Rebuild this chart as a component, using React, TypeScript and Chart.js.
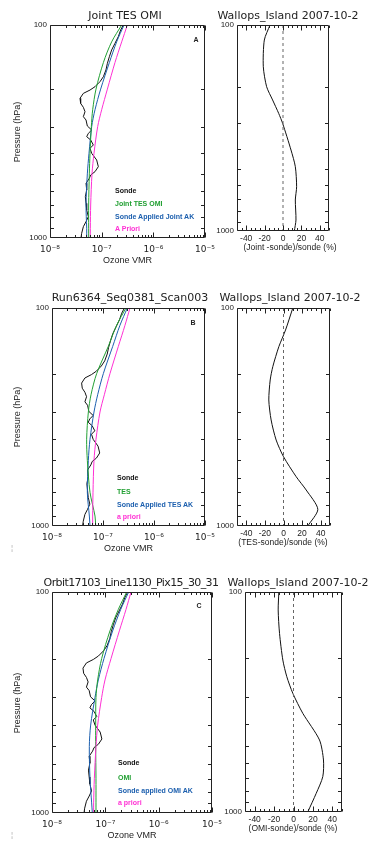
import React, { useEffect, useRef } from 'react';
import { Chart, registerables } from 'chart.js';

Chart.register(...registerables);
Chart.defaults.font.family = "'Liberation Sans', Arial, sans-serif";
Chart.defaults.color = '#222';

// ---------------- data ----------------
// Ozonesonde profile (Wallops Island, 2007-10-2)
const sondePressure = [100, 105.6, 113.4, 121.9, 131, 140.8, 151.4, 162.6, 174.8, 184.5, 194.8, 202, 209.4, 221, 233.3, 243.5, 255.2, 269.4, 279.3, 298, 311.2, 322.6, 334.4, 346.7, 365.9, 379.3, 400.4, 430.3, 462.5, 488.2, 506.1, 524.7, 553.7, 595.2, 639.7, 687.6, 738.9, 794.2, 838.3, 884.8, 950.7, 1000];
const sondeOzone = [2.63e-7, 2.33e-7, 2.10e-7, 1.81e-7, 1.56e-7, 1.41e-7, 1.29e-7, 1.21e-7, 1.08e-7, 9.28e-8, 7.43e-8, 5.95e-8, 4.42e-8, 3.81e-8, 3.92e-8, 4.42e-8, 4.76e-8, 4.42e-8, 4.98e-8, 5.28e-8, 6.41e-8, 5.52e-8, 5.13e-8, 6.13e-8, 6.90e-8, 5.95e-8, 6.41e-8, 8.00e-8, 8.62e-8, 7.43e-8, 6.13e-8, 5.77e-8, 4.98e-8, 5.13e-8, 4.83e-8, 4.98e-8, 5.13e-8, 5.52e-8, 4.98e-8, 4.42e-8, 4.10e-8, 3.98e-8];

// retrieval pressure levels
const modelPressure = [100, 120, 150, 200, 250, 300, 400, 500, 700, 900, 1000];

// Panel A: Joint TES OMI
const jointOzone = [2.44e-7, 1.56e-7, 1.08e-7, 7.77e-8, 6.70e-8, 6.31e-8, 5.95e-8, 5.77e-8, 5.60e-8, 5.60e-8, 5.60e-8];
const jointSondeAK = [2.71e-7, 1.95e-7, 1.41e-7, 9.56e-8, 7.43e-8, 6.41e-8, 5.69e-8, 5.28e-8, 4.98e-8, 5.13e-8, 5.13e-8];
const jointApriori = [3.14e-7, 2.44e-7, 1.81e-7, 1.29e-7, 1.0e-7, 8.37e-8, 7.11e-8, 6.50e-8, 6.13e-8, 6.03e-8, 6.03e-8];

// Panel B: TES
const tesOzone = [2.82e-7, 1.85e-7, 1.27e-7, 7.51e-8, 5.82e-8, 5.16e-8, 4.78e-8, 4.93e-8, 5.56e-8, 6.97e-8, 7.18e-8];
const tesSondeAK = [3.00e-7, 2.15e-7, 1.55e-7, 1.015e-7, 7.86e-8, 6.66e-8, 5.56e-8, 5.16e-8, 4.93e-8, 5.40e-8, 5.56e-8];
const tesApriori = [3.38e-7, 2.70e-7, 2.00e-7, 1.37e-7, 1.062e-7, 8.73e-8, 7.29e-8, 6.66e-8, 6.37e-8, 6.27e-8, 6.27e-8];

// Panel C: OMI
const omiOzone = [2.51e-7, 1.75e-7, 1.22e-7, 8.54e-8, 7.18e-8, 6.68e-8, 6.59e-8, 6.59e-8, 6.68e-8, 6.68e-8, 6.68e-8];
const omiSondeAK = [2.74e-7, 1.94e-7, 1.37e-7, 9.44e-8, 7.39e-8, 6.40e-8, 5.31e-8, 5.01e-8, 5.16e-8, 5.54e-8, 5.70e-8];
const omiApriori = [3.03e-7, 2.44e-7, 1.83e-7, 1.28e-7, 9.86e-8, 8.54e-8, 7.18e-8, 6.68e-8, 6.22e-8, 6.04e-8, 6.04e-8];

// relative differences (%)
const jointDiffPressure = [100, 118.3, 159.4, 199.3, 231.2, 268.5, 300.2, 404.5, 487.3, 609.4, 707.2, 884.6, 1000];
const jointDiffPct = [-14.1, -20.3, -21.4, -17.8, -11.3, -4.7, -0.4, 8.7, 13.4, 14.8, 13.4, 14.1, 12.3];
const tesDiffPressure = [100, 126.2, 150.4, 185.8, 213.9, 264.2, 326.4, 403.3, 480.8, 593.8, 683.8, 838.5, 1000];
const tesDiffPct = [10.0, 2.2, -5.0, -11.5, -14.3, -15.8, -13.3, -7.9, 0, 13.6, 24.4, 36.9, 26.1];
const omiDiffPressure = [100, 120.7, 154.2, 203.8, 242.7, 288.8, 356.1, 470.6, 580.2, 691, 822.8, 1000];
const omiDiffPct = [-15.1, -15.8, -14.4, -11.0, -6.9, -0.7, 9.6, 26.8, 30.9, 30.2, 23.4, 14.7];
const zeroLinePct = [0, 0];
const zeroLinePressure = [100, 1000];

// axes
const vmrTickValues = [1e-8, 1e-7, 1e-6, 1e-5];
const vmrTickLabels = ['10⁻⁸', '10⁻⁷', '10⁻⁶', '10⁻⁵'];
const vmrMinorTicks = [1e-8, 1e-7, 1e-6].flatMap((d) => [2, 3, 4, 5, 6, 7, 8, 9].map((k) => k * d));
const pressureTickValues = [100, 1000];
const pressureTickLabels = ['100', '1000'];
const pressureMinorTicks = [200, 300, 400, 500, 600, 700, 800, 900];
const diffTickValues = [-40, -20, 0, 20, 40];
const diffTickLabels = ['-40', '-20', '0', '20', '40'];
const diffMinorTicks = [-50, -45, -40, -35, -30, -25, -20, -15, -10, -5, 0, 5, 10, 15, 20, 25, 30, 35, 40, 45, 50];

const GREEN = '#22a033';
const BLUE = '#1c5fae';
const MAGENTA = '#ff30d4';
const BLACK = '#111';

// ---------------- chart helpers ----------------
type Series = { xs: number[]; ys: number[]; color: string; tension?: number; dash?: number[]; width?: number };
type Box = { l: number; t: number; r: number; b: number };

const frameTicks = {
  id: 'frameTicks',
  afterDatasetsDraw(chart: any, _args: any, opts: any) {
    const { ctx, chartArea } = chart;
    const xs = chart.scales.x;
    const ys = chart.scales.y;
    const L = Math.round(chartArea.left) + 0.5;
    const R = Math.round(chartArea.right) - 0.5;
    const T = Math.round(chartArea.top) + 0.5;
    const B = Math.round(chartArea.bottom) - 0.5;
    ctx.save();
    ctx.strokeStyle = '#222';
    ctx.lineWidth = 1;
    ctx.beginPath();
    ctx.rect(L, T, R - L, B - T);
    const xt = (v: number, len: number) => {
      const p = Math.round(xs.getPixelForValue(v)) + 0.5;
      ctx.moveTo(p, B); ctx.lineTo(p, B - len);
      ctx.moveTo(p, T); ctx.lineTo(p, T + len);
    };
    const yt = (v: number, len: number) => {
      const p = Math.round(ys.getPixelForValue(v)) + 0.5;
      ctx.moveTo(L, p); ctx.lineTo(L + len, p);
      ctx.moveTo(R, p); ctx.lineTo(R - len, p);
    };
    opts.xMinor.forEach((v: number) => xt(v, 2.5));
    opts.xMajor.forEach((v: number) => xt(v, 5));
    opts.yMinor.forEach((v: number) => yt(v, 3.5));
    ctx.stroke();
    ctx.restore();
  },
};

const PAD_T = 10;
const PAD_R = 16;
const PAD_B = 24;

function ProfileChart({ box, padL, kind, series }: { box: Box; padL: number; kind: 'vmr' | 'diff'; series: Series[] }) {
  const ref = useRef<HTMLCanvasElement>(null);
  const w = box.r - box.l + padL + PAD_R;
  const h = box.b - box.t + PAD_T + PAD_B;
  useEffect(() => {
    const isVmr = kind === 'vmr';
    const datasets = series.map((s) => ({
      data: s.xs.map((x, i) => ({ x, y: s.ys[i] })),
      showLine: true,
      borderColor: s.color,
      backgroundColor: s.color,
      borderWidth: s.width ?? 1,
      pointRadius: 0,
      tension: s.tension ?? 0,
      borderDash: s.dash ?? [],
      fill: false,
    }));
    const xScale = isVmr
      ? {
          type: 'logarithmic',
          min: 1e-8,
          max: 1e-5,
          afterFit: (s: any) => { s.height = PAD_B; },
          afterBuildTicks: (s: any) => { s.ticks = vmrTickValues.map((value) => ({ value })); },
          ticks: {
            autoSkip: false, maxRotation: 0, minRotation: 0, padding: 6,
            font: { size: 9, family: "'DejaVu Sans', sans-serif" }, color: '#222',
            callback: (_v: any, i: number) => vmrTickLabels[i],
          },
          grid: { display: false, drawTicks: false },
          border: { display: false },
        }
      : {
          type: 'linear',
          min: -50,
          max: 50,
          afterFit: (s: any) => { s.height = PAD_B; },
          afterBuildTicks: (s: any) => { s.ticks = diffTickValues.map((value) => ({ value })); },
          ticks: {
            autoSkip: false, maxRotation: 0, minRotation: 0, padding: 3,
            font: { size: 8.5 }, color: '#222',
            callback: (_v: any, i: number) => diffTickLabels[i],
          },
          grid: { display: false, drawTicks: false },
          border: { display: false },
        };
    const chart = new Chart(ref.current as HTMLCanvasElement, {
      type: 'scatter',
      data: { datasets } as any,
      plugins: [frameTicks],
      options: {
        responsive: false,
        maintainAspectRatio: false,
        animation: false,
        devicePixelRatio: 1,
        events: [],
        layout: { padding: { top: PAD_T, right: PAD_R, left: 0, bottom: 0 } },
        plugins: {
          legend: { display: false },
          tooltip: { enabled: false },
          frameTicks: {
            xMajor: isVmr ? vmrTickValues : diffTickValues,
            xMinor: isVmr ? vmrMinorTicks : diffMinorTicks,
            yMinor: pressureMinorTicks,
          },
        } as any,
        scales: {
          x: xScale as any,
          y: {
            type: 'logarithmic',
            min: 100,
            max: 1000,
            reverse: true,
            afterFit: (s: any) => { s.width = padL; },
            afterBuildTicks: (s: any) => { s.ticks = pressureTickValues.map((value) => ({ value })); },
            ticks: {
              autoSkip: false, padding: 3, font: { size: 8 }, color: '#222',
              callback: (_v: any, i: number) => pressureTickLabels[i],
            },
            grid: { display: false, drawTicks: false },
            border: { display: false },
          } as any,
        },
      },
    });
    return () => chart.destroy();
  }, []);
  return (
    <canvas
      ref={ref}
      width={w}
      height={h}
      style={{ position: 'absolute', left: box.l - padL, top: box.t - PAD_T, width: w, height: h }}
    />
  );
}

function T({ x, y, children, size = 9, color = '#222', weight = 400, family = "'Liberation Sans', Arial, sans-serif", align = 'center', spacing = 0 }: any) {
  const tx = align === 'left' ? '0' : '-50%';
  return (
    <div
      style={{
        position: 'absolute', left: x, top: y, whiteSpace: 'nowrap', fontSize: size, lineHeight: 1,
        color, fontWeight: weight, fontFamily: family, letterSpacing: spacing,
        transform: `translate(${tx}, -50%)`,
      }}
    >
      {children}
    </div>
  );
}

// vertical (rotated) label in a fixed-size, integer-positioned box so it stays crisp
function VT({ x, y, children, size = 9 }: any) {
  const w = 80;
  const h = 12;
  return (
    <div
      style={{
        position: 'absolute', left: Math.round(x - w / 2), top: Math.round(y - h / 2), width: w, height: h,
        fontSize: size, lineHeight: `${h}px`, textAlign: 'center', whiteSpace: 'nowrap', color: '#222',
        fontFamily: "'Liberation Sans', Arial, sans-serif", transform: 'rotate(-90deg)', transformOrigin: '50% 50%',
      }}
    >
      {children}
    </div>
  );
}

const TITLE_FONT = "'DejaVu Sans', sans-serif";

function Row({ leftBox, rightBox, leftTitle, leftTitleX, rightTitleX, titleY, titleSpacing, letter, letterPos, models, diff, legend, legendX, legendY, diffTitle, diffTitleX, padLLeft }: any) {
  const midY = Math.round((leftBox.t + leftBox.b) / 2);
  return (
    <>
      <ProfileChart
        box={leftBox}
        padL={padLLeft}
        kind="vmr"
        series={[
          { xs: models[2], ys: modelPressure, color: MAGENTA, tension: 0.3 },
          { xs: models[0], ys: modelPressure, color: GREEN, tension: 0.3 },
          { xs: models[1], ys: modelPressure, color: BLUE, tension: 0.3 },
          { xs: sondeOzone, ys: sondePressure, color: BLACK, tension: 0 },
        ]}
      />
      <ProfileChart
        box={rightBox}
        padL={32}
        kind="diff"
        series={[
          { xs: zeroLinePct, ys: zeroLinePressure, color: '#666', dash: [3, 3] },
          { xs: diff[0], ys: diff[1], color: BLACK, tension: 0.25 },
        ]}
      />
      <T x={leftTitleX} y={titleY} size={11} family={TITLE_FONT} spacing={titleSpacing}>{leftTitle}</T>
      <T x={rightTitleX} y={titleY} size={11} family={TITLE_FONT}>Wallops_Island 2007-10-2</T>
      <VT x={17} y={midY} size={9}>Pressure (hPa)</VT>
      <T x={(leftBox.l + leftBox.r) / 2} y={leftBox.b + 22} size={9}>Ozone VMR</T>
      <T x={diffTitleX} y={rightBox.b + 16} size={8.5}>{diffTitle}</T>
      <T x={letterPos[0]} y={letterPos[1]} size={7} weight={700}>{letter}</T>
      {legend.map((item: any, i: number) => (
        <T key={i} x={legendX} y={legendY[i]} size={7} weight={700} color={item[1]} align="left">{item[0]}</T>
      ))}
    </>
  );
}

export default function App() {
  return (
    <div style={{ position: 'absolute', left: 0, top: 0, width: 375, height: 841, background: '#fff', overflow: 'hidden' }}>
      <Row
        leftBox={{ l: 50, t: 25, r: 205, b: 238 }}
        rightBox={{ l: 237, t: 25, r: 329, b: 231 }}
        padLLeft={50}
        leftTitle="Joint TES OMI"
        leftTitleX={125}
        rightTitleX={288}
        titleY={15}
        titleSpacing={0}
        letter="A"
        letterPos={[196, 39]}
        models={[jointOzone, jointSondeAK, jointApriori]}
        diff={[jointDiffPct, jointDiffPressure]}
        legend={[['Sonde', BLACK], ['Joint TES OMI', GREEN], ['Sonde Applied Joint AK', BLUE], ['A Priori', MAGENTA]]}
        legendX={115}
        legendY={[190, 203, 216, 228]}
        diffTitle="(Joint -sonde)/sonde (%)"
        diffTitleX={290}
      />
      <Row
        leftBox={{ l: 52, t: 308, r: 205, b: 526 }}
        rightBox={{ l: 237, t: 308, r: 330, b: 526 }}
        padLLeft={52}
        leftTitle="Run6364_Seq0381_Scan003"
        leftTitleX={130}
        rightTitleX={290}
        titleY={297}
        titleSpacing={0}
        letter="B"
        letterPos={[193, 322]}
        models={[tesOzone, tesSondeAK, tesApriori]}
        diff={[tesDiffPct, tesDiffPressure]}
        legend={[['Sonde', BLACK], ['TES', GREEN], ['Sonde Applied TES AK', BLUE], ['a priori', MAGENTA]]}
        legendX={117}
        legendY={[477, 491, 504, 516]}
        diffTitle="(TES-sonde)/sonde (%)"
        diffTitleX={283}
      />
      <Row
        leftBox={{ l: 52, t: 592, r: 212, b: 813 }}
        rightBox={{ l: 245, t: 592, r: 342, b: 812 }}
        padLLeft={52}
        leftTitle="Orbit17103_Line1130_Pix15_30_31"
        leftTitleX={131}
        rightTitleX={298}
        titleY={582}
        titleSpacing={-0.6}
        letter="C"
        letterPos={[199, 605]}
        models={[omiOzone, omiSondeAK, omiApriori]}
        diff={[omiDiffPct, omiDiffPressure]}
        legend={[['Sonde', BLACK], ['OMI', GREEN], ['Sonde applied OMI AK', BLUE], ['a priori', MAGENTA]]}
        legendX={118}
        legendY={[762, 777, 790, 802]}
        diffTitle="(OMI-sonde)/sonde (%)"
        diffTitleX={293}
      />
      <T x={12} y={548} size={8} color="#aaa">¦</T>
      <T x={12} y={835} size={8} color="#aaa">¦</T>
    </div>
  );
}
